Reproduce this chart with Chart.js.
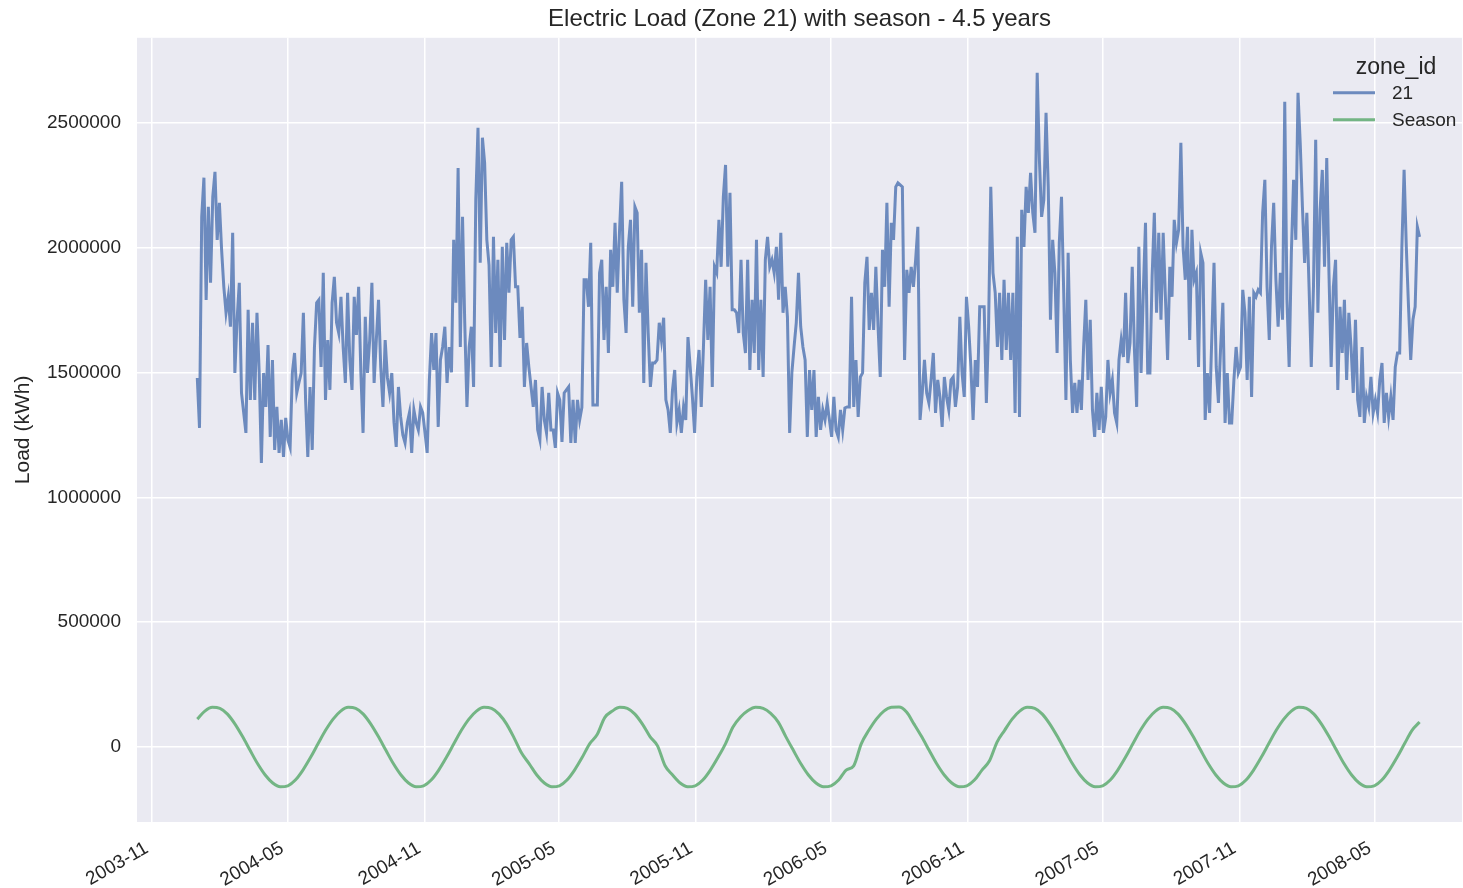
<!DOCTYPE html>
<html>
<head>
<meta charset="utf-8">
<script src="https://cdn.jsdelivr.net/npm/chart.js@4/dist/chart.umd.min.js"></script>
<style>
  html, body { margin: 0; padding: 0; background: #fff; }
</style>
</head>
<body>
<canvas id="loadChart" width="1463" height="888"></canvas>
<script>
'use strict'

// daily load, zone 21, sampled every ~3 days (thousands of kWh)
const load2004H1 = [
  1478, 1278, 2123, 2280, 1790, 2163, 1859, 2203, 2303, 2031,
  2179, 1991, 1843, 1739, 1803, 1683, 2059, 1498, 1711, 1859,
  1418, 1338, 1258, 1751, 1390, 1699, 1390, 1739, 1500, 1138,
  1498, 1362, 1610, 1242, 1550, 1190, 1362, 1178, 1310, 1162,
  1318, 1230, 1200, 1498, 1578, 1418, 1460, 1498, 1739, 1390,
  1162, 1442, 1190, 1600, 1779, 1791, 1522, 1899, 1390, 1630,
  1430
];
const load2004H2 = [
  1779, 1883, 1700, 1658, 1803, 1600, 1458, 1819, 1550, 1430,
  1803, 1650, 1843, 1500, 1258, 1723, 1498, 1630, 1859, 1458,
  1630, 1791, 1520, 1362, 1630, 1480, 1418, 1498, 1300, 1202,
  1442, 1322, 1250, 1218, 1298, 1340, 1178, 1350, 1300, 1270,
  1362, 1338, 1260, 1178, 1470, 1658, 1510, 1658, 1282, 1550,
  1602, 1683, 1458, 1602, 1500, 2031, 1779, 2319, 1602, 2123,
  1700, 1362
];
const load2005H1 = [
  1602, 1683, 1442, 2191, 2480, 1939, 2440, 2339, 2031, 1930, 1522,
  2043, 1658, 1951, 1522, 2003, 1630, 2019, 1819, 2031, 2043,
  1843, 1843, 1638, 1763, 1442, 1618, 1522, 1442, 1362, 1470,
  1270, 1230, 1442, 1310, 1258, 1418, 1270, 1270, 1198, 1418,
  1390, 1222, 1418, 1430, 1442, 1218, 1390, 1218, 1390, 1310,
  1360, 1871, 1871, 1763, 2019, 1370, 1370, 1370, 1899, 1951
];
const load2005H2 = [
  1630, 1843, 1578, 1991, 1843, 2099, 1819, 2059, 2263, 1791,
  1658, 2003, 2111, 1763, 2163, 2139, 1739, 1991, 1458, 1939,
  1658, 1442, 1538, 1538, 1550, 1699, 1630, 1719, 1390, 1350,
  1258, 1430, 1510, 1298, 1350, 1258, 1362, 1310, 1642, 1522,
  1402, 1258, 1482, 1590, 1362, 1602, 1871, 1630, 1843, 1442,
  1923, 1899, 2111, 1923, 2203, 2331, 1923, 2219, 1751, 1751,
  1739, 1658
];
const load2006H1 = [
  1951, 1658, 1578, 1951, 1510, 1791, 1578, 2031, 1510, 1791,
  1482, 1951, 2043, 1923, 1951, 1899, 2003, 1791, 2059, 1739,
  1843, 1723, 1258, 1498, 1602, 1699, 1899, 1683, 1602,
  1550, 1242, 1510, 1350, 1510, 1242, 1402, 1270, 1350, 1310,
  1378, 1310, 1242, 1402, 1270, 1242, 1350, 1270, 1358, 1362,
  1362, 1803, 1362, 1550, 1322, 1482, 1498, 1859, 1963, 1670,
  1819, 1670
];
const load2006H2 = [
  1923, 1683, 1482, 1991, 1843, 2179, 1763, 2099, 2031, 2243,
  2259, 2251, 2243, 1550, 1911, 1819, 1923, 1843, 1951, 2083,
  1310, 1418, 1550, 1418, 1378, 1470, 1578, 1338, 1470, 1402,
  1282, 1482, 1402, 1350, 1470, 1482, 1362, 1442, 1723, 1498,
  1402, 1803, 1683, 1522, 1310, 1550, 1442, 1763, 1763, 1763,
  1378, 1683, 2243, 1899, 1819, 1602, 1819, 1550, 1871, 1590,
  1819, 1550
];
const load2007H1 = [
  1819, 1338, 2043, 1322, 2151, 2003, 2243, 2139, 2299, 2139,
  2059, 2700, 2351, 2123, 2191, 2540, 2243, 1711, 2031, 1899,
  1578, 2019, 2203, 1819, 1390, 1979, 1550, 1338, 1458, 1338,
  1470, 1350, 1602, 1791, 1470, 1711, 1350, 1242, 1418, 1270,
  1442, 1258, 1322, 1550, 1418,
  1470, 1338, 1298, 1550, 1630, 1562, 1819, 1538, 1618, 1923,
  1590, 1362, 2003, 1498, 1819, 2099, 1498
];
const load2007H2 = [
  1498, 1883, 2139, 1739, 2059, 1711, 2059, 1803, 1550, 1923,
  1803, 2111, 2019, 2071, 2420, 2003, 1871, 2083, 1630, 2071,
  1871, 1899, 1522, 1979, 1939, 1310, 1498, 1338, 1642, 1939,
  1522, 1378, 1602, 1779, 1298, 1498, 1298, 1298, 1470, 1602,
  1498, 1522, 1831, 1739, 1470, 1803, 1402, 1819, 1803, 1831,
  1819, 2139, 2271, 1843, 1630, 2003, 2179, 1871, 1683, 1899,
  1711, 2584
];
const load2008H1 = [
  1791, 1522, 1979, 2271, 2031, 2620, 2420, 2163, 1939, 2139,
  1843, 1522, 1843, 2432, 1739, 2151, 2311, 1923, 2359, 1899,
  1522, 1843, 1951, 1430, 1763, 1578, 1791, 1470, 1739, 1602,
  1418, 1711, 1390, 1322, 1602, 1298, 1402, 1362, 1482, 1338,
  1390, 1338, 1470, 1538, 1298, 1418, 1322, 1402, 1310, 1522,
  1578, 1578, 2003, 2311, 2003, 1763, 1550, 1711, 1763, 2083,
  2043
];

// season curve, sampled every ~10 days (thousands of kWh)
const season2004 = [
  112, 144, 159, 155, 132, 92, 42, -13, -67, -112, -144, -159, -155, -132, -92, -42, 13, 67,
  112, 144, 159, 155, 132, 92, 42, -13, -67, -112, -144, -159, -155, -132, -92, -42, 13, 67
];
const season2005 = [
  112, 144, 159, 155, 132, 92, 36, -25, -67, -112, -144, -159, -155, -132, -92, -42, 13, 50,
  118, 144, 159, 155, 132, 92, 42, 5, -75, -112, -144, -159, -155, -132, -92, -42, 13, 80
];
const season2006 = [
  120, 146, 159, 155, 135, 100, 42, -13, -67, -112, -144, -159, -155, -132, -92, -75, 13, 67,
  112, 144, 159, 160, 140, 92, 42, -13, -67, -112, -144, -159, -155, -132, -92, -55, 20, 67
];
const season2007 = [
  112, 144, 159, 155, 132, 92, 42, -13, -67, -112, -144, -159, -155, -132, -92, -42, 13, 67,
  112, 144, 159, 155, 132, 92, 42, -13, -67, -112, -144, -159, -155, -132, -92, -42, 13, 67
];
const season2008 = [
  112, 144, 159, 155, 132, 92, 42, -13, -67, -112, -144, -159, -155, -132, -92, -42, 13, 67,
  100
];

const seriesStart = '2004-01-01';
const seriesEnd = '2008-06-30';
const axisStart = '2003-10-12';
const axisEnd = '2008-08-26';

const xTickLabels = ['2003-11', '2004-05', '2004-11', '2005-05', '2005-11',
  '2006-05', '2006-11', '2007-05', '2007-11', '2008-05'];
const yTickValues = [0, 500000, 1000000, 1500000, 2000000, 2500000];

function toMs(s) {
  const p = s.split('-').map(Number);
  return Date.UTC(p[0], p[1] - 1, p[2] || 1);
}

function spread(values) {
  const t0 = toMs(seriesStart);
  const step = (toMs(seriesEnd) - t0) / (values.length - 1);
  return values.map((v, i) => ({ x: t0 + i * step, y: v * 1000 }));
}

const loadPoints = spread([].concat(load2004H1, load2004H2, load2005H1, load2005H2,
  load2006H1, load2006H2, load2007H1, load2007H2, load2008H1));
const seasonPoints = spread([].concat(season2004, season2005, season2006, season2007, season2008));

const textColor = '#262626';
Chart.defaults.font.family = '"Liberation Sans", Arial, sans-serif';
Chart.defaults.color = textColor;

const plotBackground = {
  id: 'plotBackground',
  beforeDraw(chart) {
    const { ctx, chartArea: a } = chart;
    ctx.save();
    ctx.fillStyle = '#EAEAF2';
    ctx.fillRect(a.left, a.top, a.right - a.left, a.bottom - a.top);
    ctx.restore();
  }
};

const zoneLegend = {
  id: 'zoneLegend',
  afterDraw(chart) {
    const { ctx, chartArea: a } = chart;
    ctx.save();
    ctx.fillStyle = textColor;
    ctx.textBaseline = 'middle';
    ctx.textAlign = 'center';
    ctx.font = '23px "Liberation Sans", Arial, sans-serif';
    ctx.fillText('zone_id', a.right - 66, a.top + 30);
    ctx.textAlign = 'left';
    ctx.font = '19px "Liberation Sans", Arial, sans-serif';
    chart.data.datasets.forEach((ds, i) => {
      const y = a.top + 55 + i * 27;
      ctx.strokeStyle = ds.borderColor;
      ctx.lineWidth = 3;
      ctx.beginPath();
      ctx.moveTo(a.right - 129, y);
      ctx.lineTo(a.right - 87, y);
      ctx.stroke();
      ctx.fillText(ds.label, a.right - 70, y + 1);
    });
    ctx.restore();
  }
};

const xLabelByMs = {};
xTickLabels.forEach(l => { xLabelByMs[toMs(l)] = l; });

const ctx = document.getElementById('loadChart');

new Chart(ctx, {
  type: 'line',
  data: {
    datasets: [{
      label: '21',
      data: loadPoints,
      borderColor: 'rgba(76,114,176,0.8)',
      borderWidth: 3,
      pointRadius: 0,
      tension: 0
    }, {
      label: 'Season',
      data: seasonPoints,
      borderColor: 'rgba(85,168,104,0.8)',
      borderWidth: 3,
      pointRadius: 0,
      cubicInterpolationMode: 'monotone'
    }]
  },
  options: {
    responsive: false,
    animation: false,
    layout: { padding: { right: 1 } },
    plugins: {
      legend: { display: false },
      tooltip: { enabled: false },
      title: {
        display: true,
        fullSize: false,
        text: 'Electric Load (Zone 21) with season - 4.5 years',
        color: textColor,
        font: { size: 24, weight: 'normal' },
        padding: { top: 5, bottom: 4 }
      }
    },
    scales: {
      x: {
        type: 'linear',
        min: toMs(axisStart),
        max: toMs(axisEnd),
        border: { display: false },
        grid: { color: '#ffffff', lineWidth: 1.5, drawTicks: false },
        afterBuildTicks: s => { s.ticks = xTickLabels.map(l => ({ value: toMs(l) })); },
        afterFit: s => { s.height = 66; },
        ticks: {
          autoSkip: false,
          minRotation: 30,
          maxRotation: 30,
          padding: 15,
          labelOffset: -5,
          color: textColor,
          font: { size: 19 },
          callback: v => xLabelByMs[v] || ''
        }
      },
      y: {
        min: -300000,
        max: 2840000,
        border: { display: false },
        grid: { color: '#ffffff', lineWidth: 1.5, drawTicks: false },
        afterBuildTicks: s => { s.ticks = yTickValues.map(v => ({ value: v })); },
        afterFit: s => { s.width = 137; },
        title: {
          display: true,
          text: 'Load (kWh)',
          color: textColor,
          font: { size: 21 },
          padding: { top: 11, bottom: 0 }
        },
        ticks: {
          padding: 16,
          color: textColor,
          font: { size: 19 },
          callback: v => String(v)
        }
      }
    }
  },
  plugins: [plotBackground, zoneLegend]
});
</script>
</body>
</html>
